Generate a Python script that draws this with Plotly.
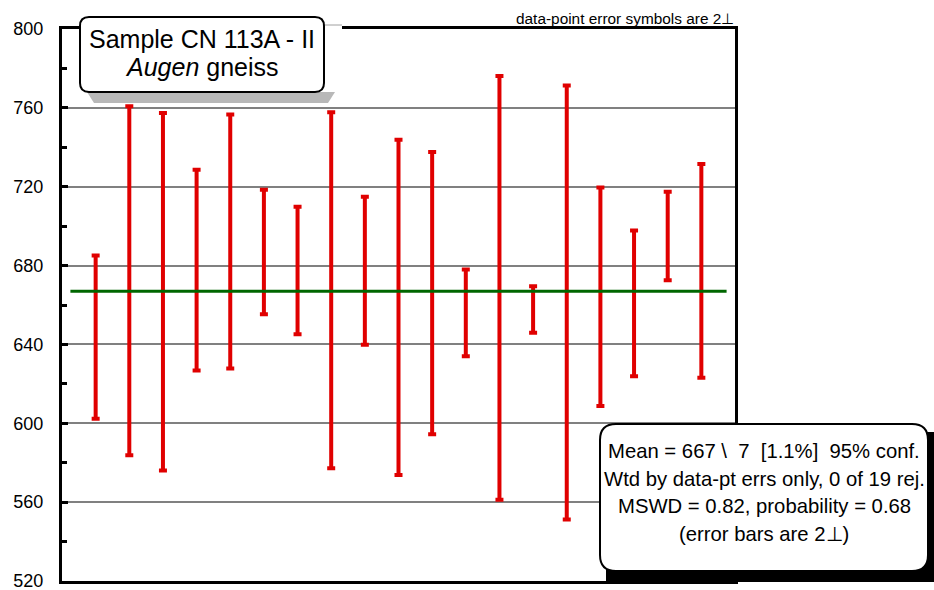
import plotly.graph_objects as go

# ---- data ----
ages = [643.7, 672.3, 666.7, 677.7, 692.2, 686.9, 677.5, 667.5, 677.4, 658.8,
        666.0, 656.0, 668.7, 657.7, 661.3, 664.2, 660.8, 695.0, 677.3]
errs_2s = [41.4, 88.5, 90.7, 50.9, 64.4, 31.6, 32.3, 90.3, 37.5, 85.0,
           71.6, 22.0, 107.5, 11.8, 110.1, 55.4, 37.0, 22.4, 54.2]
mean_age = 667
mean_span = [0.25, 19.75]
y_ticks = [520, 560, 600, 640, 680, 720, 760, 800]
x_range = [0, 20]
y_range = [520, 800]

title_line1 = "Sample CN 113A - II"
title_line2 = "<i>Augen</i> gneiss"
corner_note = "data-point error symbols are 2⊥"
stats_lines = [
    "Mean = 667 \\\u00a0 7\u00a0 [1.1%]\u00a0 95% conf.",
    "Wtd by data-pt errs only, 0 of 19 rej.",
    "MSWD = 0.82, probability = 0.68",
    "(error bars are 2⊥)",
]

FONT = "Liberation Sans, Arial, sans-serif"
W, H = 934, 590
L, R, T, B = 62, 735, 29, 581


def px(x):
    return (x - L) / (R - L)


def py(y):
    return (B - y) / (B - T)


def pt(x, y):
    return f"{px(x):.5f},{py(y):.5f}"


def rounded_path(x0, y0, x1, y1, r):
    return (f"M {pt(x0 + r, y0)} L {pt(x1 - r, y0)} Q {pt(x1, y0)} {pt(x1, y0 + r)} "
            f"L {pt(x1, y1 - r)} Q {pt(x1, y1)} {pt(x1 - r, y1)} "
            f"L {pt(x0 + r, y1)} Q {pt(x0, y1)} {pt(x0, y1 - r)} "
            f"L {pt(x0, y0 + r)} Q {pt(x0, y0)} {pt(x0 + r, y0)} Z")


def poly_path(points):
    return "M " + " L ".join(pt(x, y) for x, y in points) + " Z"


xs = list(range(1, len(ages) + 1))

fig = go.Figure()
fig.add_trace(go.Scatter(
    x=xs, y=ages, mode="markers",
    marker=dict(size=2, color="rgba(0,0,0,0)"),
    error_y=dict(type="data", array=errs_2s, visible=True,
                 color="#E00000", thickness=4, width=4),
    showlegend=False, hoverinfo="skip"))
fig.add_trace(go.Scatter(
    x=mean_span, y=[mean_age, mean_age], mode="lines",
    line=dict(color="#006600", width=3),
    showlegend=False, hoverinfo="skip"))

shapes = [
    # cover for the top frame behind the label box
    dict(type="rect", xref="paper", yref="paper", x0=px(80), x1=px(342),
         y0=py(34), y1=py(24), fillcolor="white", line=dict(width=0), layer="above"),
    dict(type="line", xref="paper", yref="paper", x0=px(324), x1=px(342),
         y0=py(25), y1=py(25), line=dict(color="#A0A0A0", width=1), layer="above"),
    # label box shadow
    dict(type="path", xref="paper", yref="paper",
         path=poly_path([(87, 92), (335, 92), (328, 103), (94, 103)]),
         fillcolor="#B8B8B8", line=dict(width=0), layer="above"),
    # label box
    dict(type="path", xref="paper", yref="paper",
         path=rounded_path(80, 17, 324, 92, 9),
         fillcolor="white", line=dict(color="black", width=2), layer="above"),
    # stats box shadow
    dict(type="rect", xref="paper", yref="paper", x0=px(606), x1=px(934),
         y0=py(582), y1=py(432), fillcolor="black", line=dict(width=0), layer="above"),
    # stats box
    dict(type="path", xref="paper", yref="paper",
         path=rounded_path(600, 424, 928, 571, 16),
         fillcolor="white", line=dict(color="black", width=2), layer="above"),
]

annotations = [
    dict(text=title_line1, x=px(202), y=py(39), xref="paper", yref="paper",
         showarrow=False, xanchor="center", yanchor="middle",
         font=dict(family=FONT, size=25, color="black")),
    dict(text=title_line2, x=px(202), y=py(67), xref="paper", yref="paper",
         showarrow=False, xanchor="center", yanchor="middle",
         font=dict(family=FONT, size=25, color="black")),
    dict(text=corner_note, x=px(736), y=py(18), xref="paper", yref="paper",
         showarrow=False, xanchor="right", yanchor="middle",
         font=dict(family=FONT, size=15.4, color="black")),
]
for i, line in enumerate(stats_lines):
    annotations.append(dict(
        text=line, x=px(764), y=py(451 + 27.7 * i), xref="paper", yref="paper",
        showarrow=False, xanchor="center", yanchor="middle",
        font=dict(family=FONT, size=20.3, color="black")))

fig.update_layout(
    width=W, height=H, autosize=False,
    margin=dict(l=L, r=W - R, t=T, b=H - B, pad=0, autoexpand=False),
    paper_bgcolor="white", plot_bgcolor="white",
    font=dict(family=FONT, color="black"),
    xaxis=dict(range=x_range, showline=True, mirror=True, linecolor="black",
               linewidth=3, showgrid=False, zeroline=False,
               showticklabels=False, ticks="", automargin=False),
    yaxis=dict(range=y_range, tickvals=y_ticks, showgrid=True,
               gridcolor="#808080", gridwidth=2, showline=True, mirror=True,
               linecolor="black", linewidth=3, zeroline=False,
               ticks="inside", ticklen=6, tickwidth=3, tickcolor="black",
               minor=dict(dtick=20, ticks="inside", ticklen=5, tickwidth=3,
                          tickcolor="black", showgrid=False),
               tickfont=dict(family=FONT, size=18, color="black"),
               ticklabelstandoff=12, ticklabeloverflow="allow",
               automargin=False),
    shapes=shapes, annotations=annotations,
    showlegend=False,
)

fig.write_html("out.html",
               config={"displayModeBar": False},
               post_script="document.body.style.margin='0';"
                           "document.body.style.overflow='hidden';")
